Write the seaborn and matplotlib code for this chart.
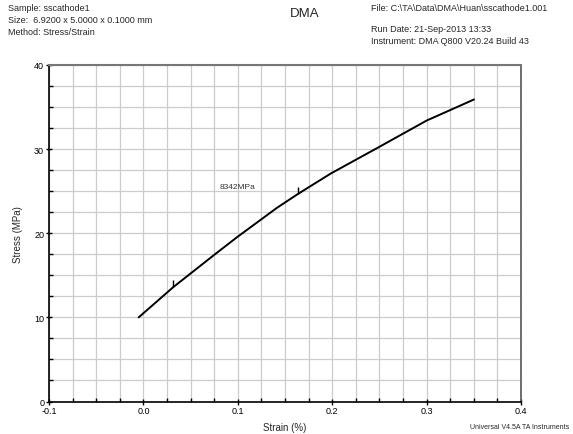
import matplotlib
matplotlib.use("Agg")
import matplotlib.pyplot as plt
import seaborn as sns
import pandas as pd
import numpy as np
from matplotlib.path import Path
from matplotlib.ticker import MultipleLocator

strain = [-0.005, 0.0317, 0.0758, 0.0988, 0.1412, 0.1641, 0.1985, 0.2488, 0.3001, 0.3502]
stress = [10.0, 13.6, 17.5, 19.5, 23.0, 24.7, 27.1, 30.2, 33.4, 35.9]
marker_strain = [0.0317, 0.1641]
marker_stress = [13.6, 24.7]
annot_text = "8342MPa"
annot_pos = (0.0995, 25.5)

sns.set_theme(style="white")
plt.rcParams['font.family'] = ['Liberation Sans', 'DejaVu Sans']

fig = plt.figure(figsize=(5.73, 4.35), dpi=100)
ax = fig.add_axes([49/573, 1 - 402.5/435, 472/573, 336.5/435])

df = pd.DataFrame({"Strain": strain, "Stress": stress})
sns.lineplot(data=df, x="Strain", y="Stress", sort=False, color="black", lw=1.4, ax=ax)

tick_path = Path([(0, 0), (0, 1)])
ax.plot(marker_strain, marker_stress, ls="none", marker=tick_path, ms=10, mew=1.0, color="black")

ax.text(annot_pos[0], annot_pos[1], annot_text, fontsize=6, ha="center", va="center", color="#333333")

ax.set_xlim(-0.1, 0.4)
ax.set_ylim(0, 40)
ax.xaxis.set_major_locator(MultipleLocator(0.1))
ax.xaxis.set_minor_locator(MultipleLocator(0.025))
ax.yaxis.set_major_locator(MultipleLocator(10))
ax.yaxis.set_minor_locator(MultipleLocator(2.5))
ax.set_xticklabels([f"{v:.1f}" for v in ax.get_xticks()])
ax.grid(True, which="both", color="#cccccc", lw=0.9)
ax.set_axisbelow(True)
ax.tick_params(which="major", direction="inout", length=4, width=1, labelsize=6.5, colors="black")
ax.tick_params(axis="x", which="major", pad=1.0)
ax.tick_params(axis="y", which="major", pad=1.5)
ax.tick_params(which="minor", direction="in", length=3, width=1, colors="black")
ax.tick_params(axis="x", which="both", bottom=True)
ax.tick_params(axis="y", which="both", left=True)
for s in ["left", "bottom"]:
    ax.spines[s].set_color("black")
    ax.spines[s].set_linewidth(1.2)
ax.spines["top"].set_color("#777777")
ax.spines["top"].set_linewidth(1.5)
ax.spines["right"].set_color("#555555")
ax.spines["right"].set_linewidth(1.2)

ax.set_xlabel("Strain (%)", fontsize=7, labelpad=5)
ax.set_ylabel("Stress (MPa)", fontsize=7, labelpad=8)

fig.text(8/573, 1 - 4/435, "Sample: sscathode1\nSize:  6.9200 x 5.0000 x 0.1000 mm\nMethod: Stress/Strain",
         fontsize=6.5, va="top", ha="left", linespacing=1.45)
fig.text(305/573, 1 - 14/435, "DMA", fontsize=9.5, va="center", ha="center")
fig.text(371/573, 1 - 4/435, "File: C:\\TA\\Data\\DMA\\Huan\\sscathode1.001", fontsize=6.5, va="top", ha="left")
fig.text(371/573, 1 - 25/435, "Run Date: 21-Sep-2013 13:33\nInstrument: DMA Q800 V20.24 Build 43",
         fontsize=6.5, va="top", ha="left", linespacing=1.45)
fig.text(569/573, 1 - 428/435, "Universal V4.5A TA Instruments", fontsize=5, va="center", ha="right")

fig.savefig("out.png", dpi=100)
